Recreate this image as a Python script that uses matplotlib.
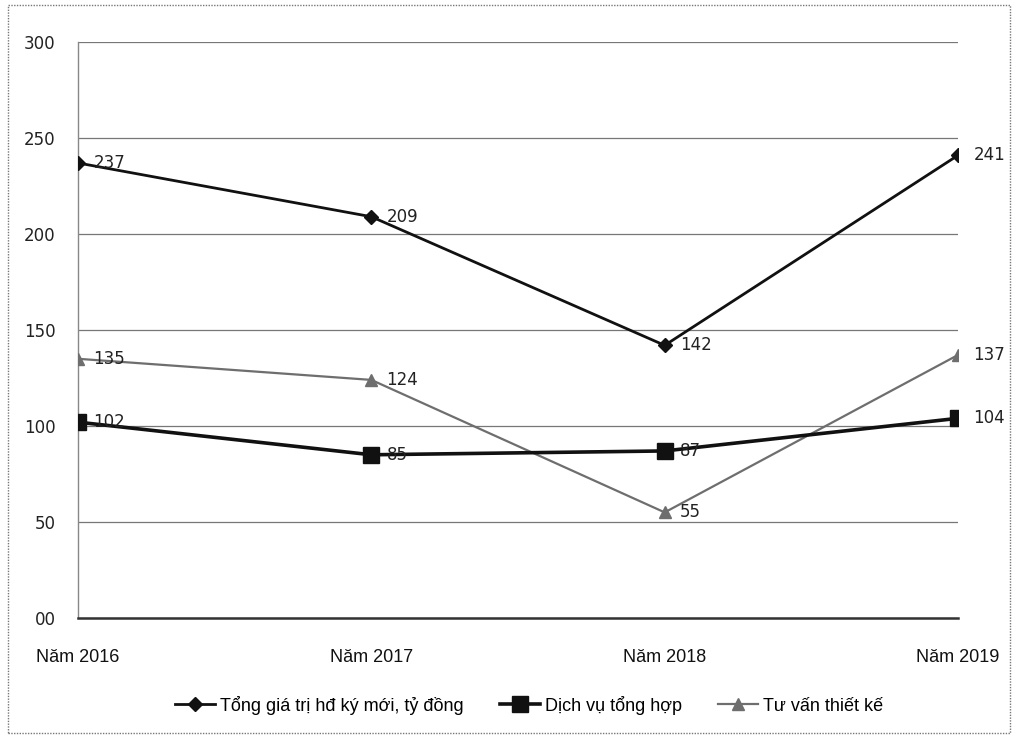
import matplotlib.pyplot as plt
from matplotlib.patches import Rectangle

years = ["Năm 2016", "Năm 2017", "Năm 2018", "Năm 2019"]
tong_gia_tri = [237, 209, 142, 241]
dich_vu = [102, 85, 87, 104]
tu_van = [135, 124, 55, 137]
y_ticks = [0, 50, 100, 150, 200, 250, 300]
y_tick_labels = ["00", "50", "100", "150", "200", "250", "300"]

narrow = ["Liberation Sans Narrow", "Liberation Sans", "DejaVu Sans"]

fig = plt.figure(figsize=(10.18, 7.37), dpi=100)
ax = fig.add_axes([0.0766, 0.1615, 0.8645, 0.7815])

x = list(range(len(years)))

ax.plot(x, tong_gia_tri, color="#111111", lw=2.0, marker="D", ms=7,
        label="Tổng giá trị hđ ký mới, tỷ đồng", zorder=4)
ax.plot(x, dich_vu, color="#111111", lw=2.6, marker="s", ms=11,
        label="Dịch vụ tổng hợp", zorder=5)
ax.plot(x, tu_van, color="#6e6e6e", lw=1.6, marker="^", ms=9,
        label="Tư vấn thiết kế", zorder=3)

for series in (tong_gia_tri, dich_vu, tu_van):
    for xi, v in zip(x, series):
        ax.annotate(str(v), (xi, v), xytext=(11, 0), textcoords="offset points",
                    ha="left", va="center", fontsize=12, color="#222222", zorder=6)

ax.set_xlim(0, 3)
ax.set_ylim(0, 300)
ax.set_yticks(y_ticks)
ax.set_yticklabels(y_tick_labels, fontsize=12, color="#222222")
ax.set_xticks(x)
ax.set_xticklabels(years, fontsize=13, family=narrow, color="#111111")
ax.tick_params(axis="both", length=0)
ax.tick_params(axis="y", pad=16)
ax.tick_params(axis="x", pad=22)

ax.grid(axis="y", color="#777777", lw=0.9)
ax.set_axisbelow(True)
for side in ("top", "right"):
    ax.spines[side].set_visible(False)
ax.spines["left"].set_linestyle((0, (1, 1)))
ax.spines["left"].set_color("#888888")
ax.spines["left"].set_linewidth(1.0)
ax.spines["bottom"].set_color("#333333")
ax.spines["bottom"].set_linewidth(1.8)

leg = fig.legend(loc="center", bbox_to_anchor=(0.52, 0.043), ncol=3, frameon=False,
                 prop={"family": narrow, "size": 13}, handlelength=2.2,
                 columnspacing=2.0, handletextpad=0.3)

fig.patches.append(Rectangle((8 / 1018, 4 / 737), 1002 / 1018, 728 / 737,
                             transform=fig.transFigure, fill=False,
                             edgecolor="#777777", lw=1.0, ls=(0, (1, 1))))

fig.savefig("out.png", dpi=100)
